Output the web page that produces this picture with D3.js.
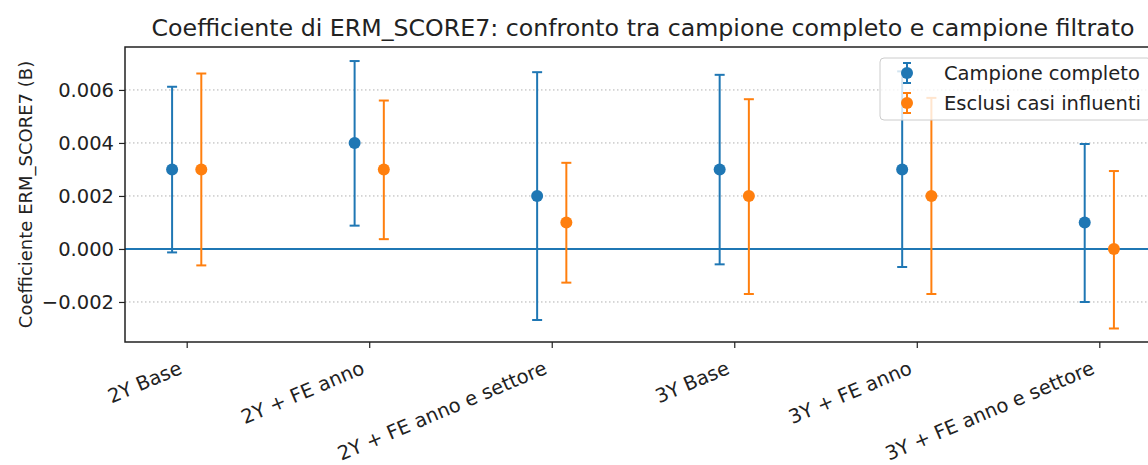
<!DOCTYPE html>
<html>
<head>
<meta charset="utf-8">
<script src="https://cdn.jsdelivr.net/npm/d3@7"></script>
<style>
  body { margin: 0; background: #fff; }
  text { font-family: "DejaVu Sans", sans-serif; fill: #222; }
</style>
</head>
<body>
<script>
// chart data
var categories = ["2Y Base", "2Y + FE anno", "2Y + FE anno e settore", "3Y Base", "3Y + FE anno", "3Y + FE anno e settore"];
var fullCoef = [0.003, 0.004, 0.002, 0.003, 0.003, 0.001];
var fullLow  = [-0.00013, 0.00088, -0.00268, -0.00058, -0.00068, -0.0020];
var fullHigh = [0.00612, 0.00709, 0.00667, 0.00657, 0.0067, 0.00396];
var filtCoef = [0.003, 0.003, 0.001, 0.002, 0.002, 0.0];
var filtLow  = [-0.00062, 0.00037, -0.00127, -0.0017, -0.0017, -0.0030];
var filtHigh = [0.00662, 0.0056, 0.00325, 0.00565, 0.0057, 0.00294];
var yTicks = [-0.002, 0, 0.002, 0.004, 0.006];
var seriesNames = ["Campione completo", "Esclusi casi influenti"];
var colors = ["#1f77b4", "#ff7f0e"];

var width = 1148, height = 465;
var plotLeft = 125, plotTop = 47, plotBottom = 342, plotRight = 1161;
var offset = 0.08;

var svg = d3.select("body").append("svg")
    .attr("width", width)
    .attr("height", height);

// x: category positions with matplotlib-like margins
var n = categories.length;
var span = (n - 1) + 2 * offset;
var x = d3.scaleLinear()
    .domain([-offset - 0.05 * span, n - 1 + offset + 0.05 * span])
    .range([plotLeft, plotRight]);

var y = d3.scaleLinear()
    .domain([-0.00351, 0.00762])
    .range([plotBottom, plotTop]);

// grid
svg.append("g")
    .selectAll("line")
    .data(yTicks)
    .enter().append("line")
    .attr("x1", plotLeft).attr("x2", plotRight)
    .attr("y1", function (d) { return y(d); })
    .attr("y2", function (d) { return y(d); })
    .attr("stroke", "#b0b0b0")
    .attr("stroke-width", 1)
    .attr("stroke-dasharray", "1.5,2.5");

// zero line
svg.append("line")
    .attr("x1", plotLeft).attr("x2", plotRight)
    .attr("y1", y(0)).attr("y2", y(0))
    .attr("stroke", "#1f77b4")
    .attr("stroke-width", 2);

// series
var series = [
    {name: seriesNames[0], coef: fullCoef, low: fullLow, high: fullHigh, dx: -offset, color: colors[0]},
    {name: seriesNames[1], coef: filtCoef, low: filtLow, high: filtHigh, dx: offset, color: colors[1]}
];

series.forEach(function (s) {
    var g = svg.append("g");
    var pts = categories.map(function (c, i) {
        return {pos: i + s.dx, coef: s.coef[i], low: s.low[i], high: s.high[i]};
    });
    g.selectAll("line.bar").data(pts).enter().append("line")
        .attr("x1", function (d) { return x(d.pos); })
        .attr("x2", function (d) { return x(d.pos); })
        .attr("y1", function (d) { return y(d.low); })
        .attr("y2", function (d) { return y(d.high); })
        .attr("stroke", s.color).attr("stroke-width", 2);
    ["low", "high"].forEach(function (k) {
        g.selectAll("line.cap" + k).data(pts).enter().append("line")
            .attr("x1", function (d) { return x(d.pos) - 5; })
            .attr("x2", function (d) { return x(d.pos) + 5; })
            .attr("y1", function (d) { return y(d[k]); })
            .attr("y2", function (d) { return y(d[k]); })
            .attr("stroke", s.color).attr("stroke-width", 2);
    });
    g.selectAll("circle").data(pts).enter().append("circle")
        .attr("cx", function (d) { return x(d.pos); })
        .attr("cy", function (d) { return y(d.coef); })
        .attr("r", 6)
        .attr("fill", s.color);
});

// spines
svg.append("path")
    .attr("d", "M" + plotRight + "," + plotTop + "H" + plotLeft + "V" + plotBottom + "H" + plotRight)
    .attr("fill", "none")
    .attr("stroke", "#222")
    .attr("stroke-width", 1.5);

// y axis
var yAxis = svg.append("g")
    .attr("transform", "translate(" + plotLeft + ",0)")
    .call(d3.axisLeft(y).tickValues(yTicks).tickFormat(d3.format(".3f")).tickSize(6).tickPadding(5));
yAxis.select(".domain").remove();
yAxis.selectAll(".tick line").attr("stroke", "#222").attr("stroke-width", 1.2);
yAxis.selectAll("text").style("font-size", "19.5px").style("font-family", "DejaVu Sans").attr("fill", "#222");

// x axis
var xAxis = svg.append("g")
    .attr("transform", "translate(0," + plotBottom + ")")
    .call(d3.axisBottom(x).tickValues(d3.range(n)).tickFormat(function (i) { return categories[i]; }).tickSize(6));
xAxis.select(".domain").remove();
xAxis.selectAll(".tick line").attr("stroke", "#222").attr("stroke-width", 1.2);
xAxis.selectAll("text")
    .style("font-size", "19.5px").style("font-family", "DejaVu Sans").attr("fill", "#222")
    .attr("text-anchor", "end")
    .attr("dy", null)
    .attr("y", 0)
    .attr("transform", "translate(-4,31) rotate(-23)");

// y label
svg.append("text")
    .attr("transform", "translate(32," + ((plotTop + plotBottom) / 2) + ") rotate(-90)")
    .attr("text-anchor", "middle")
    .style("font-size", "18px")
    .text("Coefficiente ERM_SCORE7 (B)");

// title
svg.append("text")
    .attr("x", (plotLeft + plotRight) / 2)
    .attr("y", 36)
    .attr("text-anchor", "middle")
    .style("font-size", "23.7px")
    .text("Coefficiente di ERM_SCORE7: confronto tra campione completo e campione filtrato");

// legend
var legend = svg.append("g").attr("transform", "translate(880,58)");
legend.append("rect")
    .attr("width", 271).attr("height", 62)
    .attr("rx", 4)
    .attr("fill", "white").attr("fill-opacity", 0.8)
    .attr("stroke", "#cccccc").attr("stroke-width", 1);
series.forEach(function (s, i) {
    var ly = 15 + i * 30;
    var row = legend.append("g").attr("transform", "translate(27," + ly + ")");
    row.append("line").attr("y1", -10).attr("y2", 10).attr("stroke", s.color).attr("stroke-width", 2);
    row.append("line").attr("x1", -4).attr("x2", 4).attr("y1", -10).attr("y2", -10).attr("stroke", s.color).attr("stroke-width", 2);
    row.append("line").attr("x1", -4).attr("x2", 4).attr("y1", 10).attr("y2", 10).attr("stroke", s.color).attr("stroke-width", 2);
    row.append("circle").attr("r", 6).attr("fill", s.color);
    legend.append("text")
        .attr("x", 64).attr("y", ly)
        .attr("dy", "0.35em")
        .style("font-size", "19.5px")
        .text(s.name);
});
</script>
</body>
</html>
